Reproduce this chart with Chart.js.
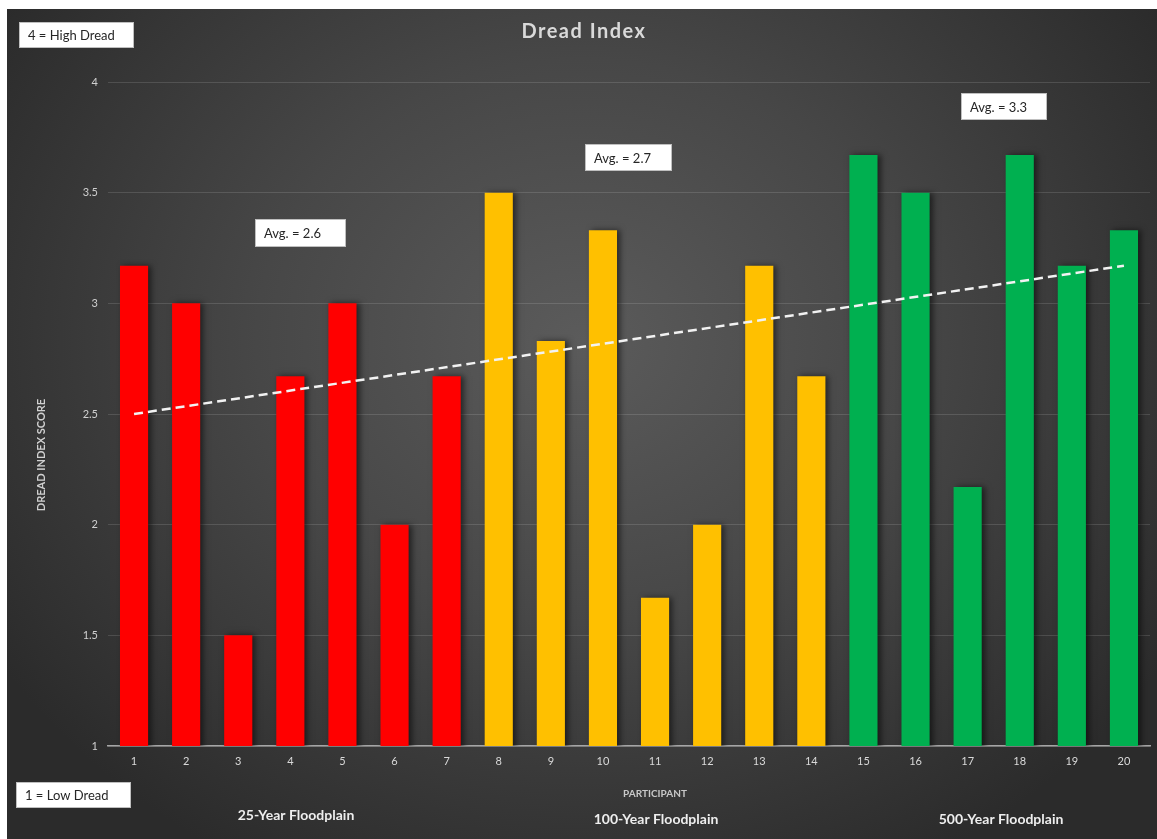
<!DOCTYPE html>
<html>
<head>
<meta charset="utf-8">
<title>Dread Index</title>
<script src="https://cdn.jsdelivr.net/npm/chart.js@4.4.1/dist/chart.umd.min.js"></script>
<style>
    html, body { margin: 0; padding: 0; background: #ffffff; }
    #ChartWrap {
        position: absolute;
        left: 7px;
        top: 9px;
        width: 1150px;
        height: 830px;
        background: radial-gradient(ellipse at 50% 40%, #5b5b5b 0%, #474747 40%, #2b2b2b 85%);
    }
</style>
</head>
<body>
<div id="ChartWrap"><canvas id="ControlDreadIndex" width="1150" height="830"></canvas></div>
<script>
// values
var participants = ['1', '2', '3', '4', '5', '6', '7', '8', '9', '10',
    '11', '12', '13', '14', '15', '16', '17', '18', '19', '20'];
var dreadScores = [3.17, 3.0, 1.5, 2.67, 3.0, 2.0, 2.67,
    3.5, 2.83, 3.33, 1.67, 2.0, 3.17, 2.67,
    3.67, 3.5, 2.17, 3.67, 3.17, 3.33];
var floodplains = ['25-Year Floodplain', '100-Year Floodplain', '500-Year Floodplain'];
var floodplainCounts = [7, 7, 6];
var avgLabels = ['Avg. = 2.6', 'Avg. = 2.7', 'Avg. = 3.3'];
var trendEnds = [2.5, 3.17];
var yTicks = [1, 1.5, 2, 2.5, 3, 3.5, 4];

var dreadChart = {

    colors: ['#ff0000', '#ffc000', '#00b050'],
    font: 'Lato, "Open Sans", sans-serif',

    initialize: function () {
        var ctx = document.getElementById('ControlDreadIndex').getContext('2d');
        new Chart(ctx, dreadChart.buildConfig());
    },

    barColors: function () {
        var list = [];
        for (var g = 0; g < floodplainCounts.length; g++) {
            for (var i = 0; i < floodplainCounts[g]; i++) {
                list.push(dreadChart.colors[g]);
            }
        }
        return list;
    },

    trendData: function () {
        var list = [];
        for (var i = 0; i < participants.length; i++) {
            list.push(null);
        }
        list[0] = trendEnds[0];
        list[list.length - 1] = trendEnds[1];
        return list;
    },

    drawBox: function (ctx, x, y, w, h, text) {
        ctx.fillStyle = '#ffffff';
        ctx.fillRect(x, y, w, h);
        ctx.strokeStyle = '#bfbfbf';
        ctx.lineWidth = 1;
        ctx.strokeRect(x + 0.5, y + 0.5, w - 1, h - 1);
        ctx.fillStyle = '#262626';
        ctx.font = '13px ' + dreadChart.font;
        ctx.textAlign = 'left';
        ctx.textBaseline = 'middle';
        ctx.fillText(text, x + 9, y + h / 2 + 1);
    },

    // shadow behind the bars, like the office chart
    barShadow: {
        id: 'barShadow',
        beforeDatasetDraw: function (chart, args) {
            if (args.meta.type !== 'bar') return;
            var ctx = chart.ctx;
            ctx.save();
            ctx.shadowColor = 'rgba(0, 0, 0, 0.55)';
            ctx.shadowBlur = 6;
            ctx.shadowOffsetX = 3;
            ctx.shadowOffsetY = 0;
        },
        afterDatasetDraw: function (chart, args) {
            if (args.meta.type !== 'bar') return;
            chart.ctx.restore();
        }
    },

    textLayer: {
        id: 'textLayer',
        afterDraw: function (chart) {
            var ctx = chart.ctx;
            ctx.save();

            // title
            ctx.fillStyle = '#d9d9d9';
            ctx.font = 'bold 20px ' + dreadChart.font;
            ctx.textAlign = 'center';
            ctx.textBaseline = 'middle';
            if ('letterSpacing' in ctx) ctx.letterSpacing = '1.5px';
            ctx.fillText('Dread Index', 577, 23);
            if ('letterSpacing' in ctx) ctx.letterSpacing = '0px';

            // y axis title, rotated
            ctx.save();
            ctx.translate(34, 446);
            ctx.rotate(-Math.PI / 2);
            ctx.fillStyle = '#d0d0d0';
            ctx.font = 'bold 11px ' + dreadChart.font;
            ctx.fillText('DREAD INDEX SCORE', 0, 0);
            ctx.restore();

            // x axis title
            ctx.fillStyle = '#c8c8c8';
            ctx.font = 'bold 10px ' + dreadChart.font;
            ctx.fillText('PARTICIPANT', 648, 785);

            // group names under the axis
            ctx.fillStyle = '#eeeeee';
            ctx.font = 'bold 14px ' + dreadChart.font;
            ctx.fillText(floodplains[0], 289, 806);
            ctx.fillText(floodplains[1], 649, 810);
            ctx.fillText(floodplains[2], 994, 810);

            // white label boxes
            dreadChart.drawBox(ctx, 12, 13, 115, 26, '4 = High Dread');
            dreadChart.drawBox(ctx, 9, 773, 115, 26, '1 = Low Dread');
            dreadChart.drawBox(ctx, 248, 210, 91, 28, avgLabels[0]);
            dreadChart.drawBox(ctx, 578, 135, 87, 27, avgLabels[1]);
            dreadChart.drawBox(ctx, 954, 84, 86, 27, avgLabels[2]);

            ctx.restore();
        }
    },

    buildConfig: function () {
        return {
            type: 'bar',
            data: {
                labels: participants,
                datasets: [{
                    type: 'line',
                    label: 'Trend',
                    data: dreadChart.trendData(),
                    borderColor: '#f2f2f2',
                    borderWidth: 2.5,
                    borderDash: [9, 5],
                    pointRadius: 0,
                    spanGaps: true,
                    fill: false,
                    order: 0
                },
                {
                    label: 'Dread Index',
                    data: dreadScores,
                    backgroundColor: dreadChart.barColors(),
                    borderWidth: 0,
                    barPercentage: 0.54,
                    categoryPercentage: 1.0,
                    order: 1
                }
                ]
            },
            options: {
                responsive: false,
                animation: false,
                layout: {
                    padding: { top: 73, right: 7, bottom: 0, left: 0 }
                },
                plugins: {
                    legend: { display: false },
                    tooltip: { enabled: false },
                    title: { display: false }
                },
                scales: {
                    x: {
                        grid: { display: false, drawTicks: false },
                        border: { display: true, color: '#a6a6a6', width: 1.5 },
                        ticks: {
                            color: '#d9d9d9',
                            padding: 9,
                            font: { family: dreadChart.font, size: 11 }
                        },
                        afterFit: function (scale) {
                            scale.height = 93;
                        }
                    },
                    y: {
                        min: 1,
                        max: 4,
                        grid: {
                            color: 'rgba(255, 255, 255, 0.13)',
                            drawTicks: false
                        },
                        border: { display: false },
                        ticks: {
                            color: '#d0d0d0',
                            padding: 10,
                            font: { family: dreadChart.font, size: 11 },
                            callback: function (value) {
                                return String(value);
                            }
                        },
                        afterBuildTicks: function (scale) {
                            scale.ticks = yTicks.map(function (v) { return { value: v }; });
                        },
                        afterFit: function (scale) {
                            scale.width = 101;
                        }
                    }
                }
            },
            plugins: [dreadChart.barShadow, dreadChart.textLayer]
        };
    }
};

window.addEventListener('load', function () {
    dreadChart.initialize();
});
</script>
</body>
</html>
